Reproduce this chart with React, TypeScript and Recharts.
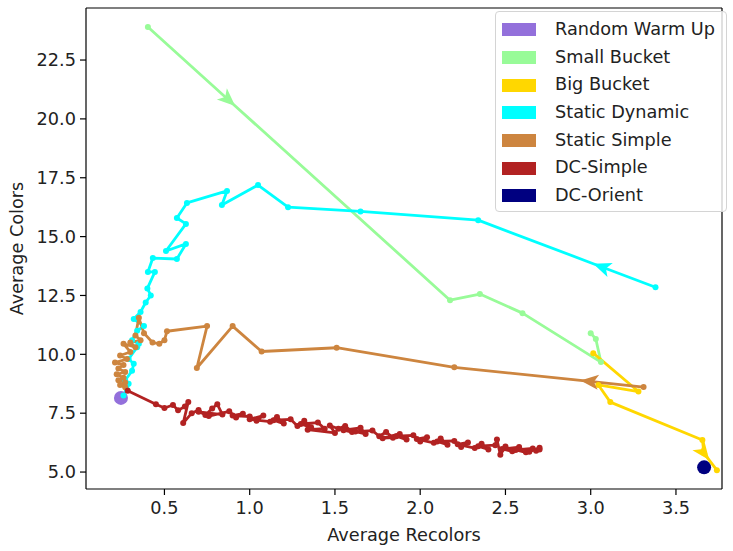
import { ComposedChart, Line, Scatter, XAxis, YAxis, Legend, ReferenceLine } from "recharts";

const seriesNames = [
  "Random Warm Up",
  "Small Bucket",
  "Big Bucket",
  "Static Dynamic",
  "Static Simple",
  "DC-Simple",
  "DC-Orient",
];
const seriesColors = ["#9370db", "#98fb98", "#ffd700", "#00ffff", "#cd853f", "#b22222", "#000080"];

const xTicks = [0.5, 1.0, 1.5, 2.0, 2.5, 3.0, 3.5];
const yTicks = [5.0, 7.5, 10.0, 12.5, 15.0, 17.5, 20.0, 22.5];
const xDomain = [0.04, 3.77];
const yDomain = [4.28, 24.71];

// start points
const warmUpX = [0.245];
const warmUpY = [8.15];
const orientX = [3.665];
const orientY = [5.2];

// trajectories (arrow index = where the arrow head sits)
const smallX = [0.403, 0.915, 2.175, 2.35, 2.6, 3.06, 3.03, 3.0];
const smallY = [23.9, 20.55, 12.3, 12.56, 11.75, 9.67, 10.65, 10.9];
const smallArrow = 1;

const bigX = [3.015, 3.28, 3.045, 3.115, 3.655, 3.665, 3.695, 3.74];
const bigY = [10.05, 8.42, 8.7, 7.97, 6.36, 5.8, 5.51, 5.08];
const bigArrow = 6;

const dynX = [
  3.38, 3.015, 2.34, 1.65, 1.225, 1.049, 0.837, 0.867, 0.632, 0.573, 0.626, 0.509, 0.626, 0.573,
  0.432, 0.403, 0.444, 0.4, 0.42, 0.39, 0.36, 0.32, 0.38, 0.34, 0.31, 0.35, 0.34, 0.29, 0.32,
  0.31, 0.27, 0.29, 0.28, 0.26,
];
const dynY = [
  12.85, 13.85, 15.7, 16.07, 16.25, 17.19, 16.34, 16.94, 16.43, 15.79, 15.54, 14.39, 14.69, 14.05,
  14.09, 13.5, 13.5, 12.8, 12.5, 12.2, 11.8, 11.5, 11.2, 11.0, 10.6, 10.45, 10.3, 9.8, 9.6, 9.3,
  8.9, 8.75, 8.5, 8.25,
];
const dynArrow = 1;

const simpleX = [
  3.31, 2.94, 2.2, 1.51, 1.07, 0.9, 0.69, 0.75, 0.515, 0.5, 0.47, 0.43, 0.38, 0.35, 0.33, 0.36,
  0.3, 0.33, 0.26, 0.3, 0.24, 0.28, 0.21, 0.26, 0.23, 0.27, 0.22, 0.26, 0.23, 0.27, 0.24, 0.27,
];
const simpleY = [
  8.61, 8.89, 9.45, 10.28, 10.12, 11.2, 9.42, 11.2, 10.98, 10.6, 10.45, 10.5, 10.9, 11.55, 10.8,
  10.6, 10.5, 10.3, 10.45, 10.1, 9.95, 9.8, 9.65, 9.55, 9.4, 9.25, 9.15, 9.0, 8.9, 8.8, 8.7, 8.6,
];
const simpleArrow = 1;

const dcX = [
  0.285, 0.45, 0.5, 0.55, 0.58, 0.62, 0.64, 0.61, 0.66, 0.7, 0.74, 0.78, 0.81, 0.84, 0.7, 0.76,
  0.88, 0.92, 0.96, 0.9, 1.0, 1.04, 1.08, 1.0, 1.12, 1.16, 1.2, 1.14, 1.24, 1.28, 1.32, 1.36,
  1.3, 1.4, 1.44, 1.34, 1.5, 1.47, 1.52, 1.56, 1.6, 1.55, 1.65, 1.68, 1.62, 1.72, 1.76, 1.8,
  1.84, 1.78, 1.88, 1.92, 1.86, 1.96, 2.0, 2.04, 1.98, 2.08, 2.12, 2.16, 2.1, 2.2, 2.24, 2.28,
  2.22, 2.32, 2.36, 2.4, 2.34, 2.44, 2.45, 2.47, 2.5, 2.54, 2.48, 2.58, 2.62, 2.56, 2.66, 2.64,
  2.7, 2.68, 2.7,
];
const dcY = [
  8.45, 7.88, 7.72, 7.85, 7.62, 7.78, 7.98, 7.08, 7.5, 7.64, 7.42, 7.7, 7.88, 7.44, 7.56, 7.38,
  7.58, 7.32, 7.48, 7.4, 7.36, 7.18, 7.4, 7.24, 7.14, 7.34, 7.06, 7.2, 7.24, 6.96, 7.18, 6.9,
  7.04, 7.1, 6.84, 6.8, 6.66, 6.98, 6.84, 6.96, 6.7, 6.78, 6.88, 6.62, 6.72, 6.76, 6.52, 6.7,
  6.46, 6.44, 6.62, 6.38, 6.52, 6.56, 6.3, 6.48, 6.4, 6.24, 6.42, 6.16, 6.3, 6.32, 6.06, 6.26,
  6.18, 6.02, 6.2, 5.96, 6.1, 6.14, 6.38, 5.74, 6.08, 5.88, 5.98, 6.06, 5.84, 5.94, 6.0, 5.86,
  6.03, 5.9, 5.96,
];

const toRows = (xs: number[], ys: number[]) => xs.map((x, i) => ({ x, y: ys[i] }));

const FONT = "DejaVu Sans, sans-serif";
const FS = 17.7;

function makeDot(color: string, arrowIdx: number) {
  return (props: any) => {
    const { cx, cy, index, points } = props;
    if (cx == null || cy == null) return <g key={`e-${index}`} />;
    if (index === arrowIdx && points && points[index - 1]) {
      const p = points[index - 1];
      const a = Math.atan2(cy - p.y, cx - p.x);
      const L = 18;
      const W = 7.5;
      const c = Math.cos(a);
      const s = Math.sin(a);
      const bx = cx - L * c;
      const by = cy - L * s;
      const nx = bx + L * 0.25 * c;
      const ny = by + L * 0.25 * s;
      return (
        <polygon
          key={`a-${index}`}
          points={`${cx},${cy} ${bx - s * W},${by + c * W} ${nx},${ny} ${bx + s * W},${by - c * W}`}
          fill={color}
        />
      );
    }
    return <circle key={`d-${index}`} cx={cx} cy={cy} r={3} fill={color} />;
  };
}

function bigDot(color: string) {
  return (props: any) => <circle cx={props.cx} cy={props.cy} r={7} fill={color} />;
}

function LegendBox() {
  return (
    <div
      style={{
        width: 230,
        height: 195,
        border: "1px solid #d4d4d4",
        borderRadius: 4,
        background: "rgba(255,255,255,0.8)",
        paddingTop: 4,
        boxSizing: "content-box",
        fontFamily: FONT,
        fontSize: FS,
        color: "#222",
      }}
    >
      {seriesNames.map((name, i) => (
        <div key={name} style={{ height: 27.7, display: "flex", alignItems: "center" }}>
          <span
            style={{
              display: "inline-block",
              width: 34,
              height: 13,
              marginLeft: 6,
              background: seriesColors[i],
            }}
          />
          <span style={{ marginLeft: 19, whiteSpace: "nowrap", lineHeight: 1 }}>{name}</span>
        </div>
      ))}
    </div>
  );
}

const lines = [
  { xs: smallX, ys: smallY, arrow: smallArrow, color: seriesColors[1], name: seriesNames[1] },
  { xs: bigX, ys: bigY, arrow: bigArrow, color: seriesColors[2], name: seriesNames[2] },
  { xs: dynX, ys: dynY, arrow: dynArrow, color: seriesColors[3], name: seriesNames[3] },
  { xs: simpleX, ys: simpleY, arrow: simpleArrow, color: seriesColors[4], name: seriesNames[4] },
  { xs: dcX, ys: dcY, arrow: -1, color: seriesColors[5], name: seriesNames[5] },
];

export default function App() {
  const tick = { fill: "#222", fontSize: FS, fontFamily: FONT };
  return (
    <div style={{ position: "absolute", left: 0, top: 0, width: 733, height: 551, background: "#fff", fontFamily: FONT }}>
      <ComposedChart width={733} height={551} margin={{ top: 8, right: 11, left: 16, bottom: 32 }}>
        <XAxis
          type="number"
          dataKey="x"
          domain={xDomain}
          allowDataOverflow
          ticks={xTicks}
          tickFormatter={(v) => Number(v).toFixed(1)}
          tick={tick}
          tickSize={6}
          tickMargin={6}
          height={30}
          axisLine={{ stroke: "#000", strokeWidth: 1.2 }}
          tickLine={{ stroke: "#000", strokeWidth: 1.2 }}
          label={{ value: "Average Recolors", position: "bottom", offset: 9, fill: "#222", fontSize: FS, fontFamily: FONT }}
        />
        <YAxis
          type="number"
          dataKey="y"
          domain={yDomain}
          allowDataOverflow
          ticks={yTicks}
          tickFormatter={(v) => Number(v).toFixed(1)}
          tick={tick}
          tickSize={6}
          tickMargin={4}
          width={70}
          axisLine={{ stroke: "#000", strokeWidth: 1.2 }}
          tickLine={{ stroke: "#000", strokeWidth: 1.2 }}
          label={{
            value: "Average Colors",
            angle: -90,
            position: "insideLeft",
            offset: 1,
            fill: "#222",
            fontSize: FS,
            fontFamily: FONT,
            style: { textAnchor: "middle" },
          }}
        />
        <ReferenceLine y={yDomain[1]} stroke="#000" strokeWidth={1.2} />
        <ReferenceLine x={xDomain[1]} stroke="#000" strokeWidth={1.2} />
        <Scatter
          data={toRows(orientX, orientY)}
          dataKey="y"
          name={seriesNames[6]}
          shape={bigDot(seriesColors[6])}
          isAnimationActive={false}
        />
        <Scatter
          data={toRows(warmUpX, warmUpY)}
          dataKey="y"
          name={seriesNames[0]}
          shape={bigDot(seriesColors[0])}
          isAnimationActive={false}
        />
        {lines.map((s) => (
          <Line
            key={s.name}
            data={toRows(s.xs, s.ys)}
            dataKey="y"
            name={s.name}
            type="linear"
            stroke={s.color}
            strokeWidth={2.8}
            strokeLinejoin="round"
            dot={makeDot(s.color, s.arrow)}
            activeDot={false}
            isAnimationActive={false}
          />
        ))}
        <Legend
          layout="horizontal"
          verticalAlign="middle"
          align="center"
          wrapperStyle={{ top: 11, left: 495, width: 232, height: 200 }}
          content={() => <LegendBox />}
        />
      </ComposedChart>
    </div>
  );
}
